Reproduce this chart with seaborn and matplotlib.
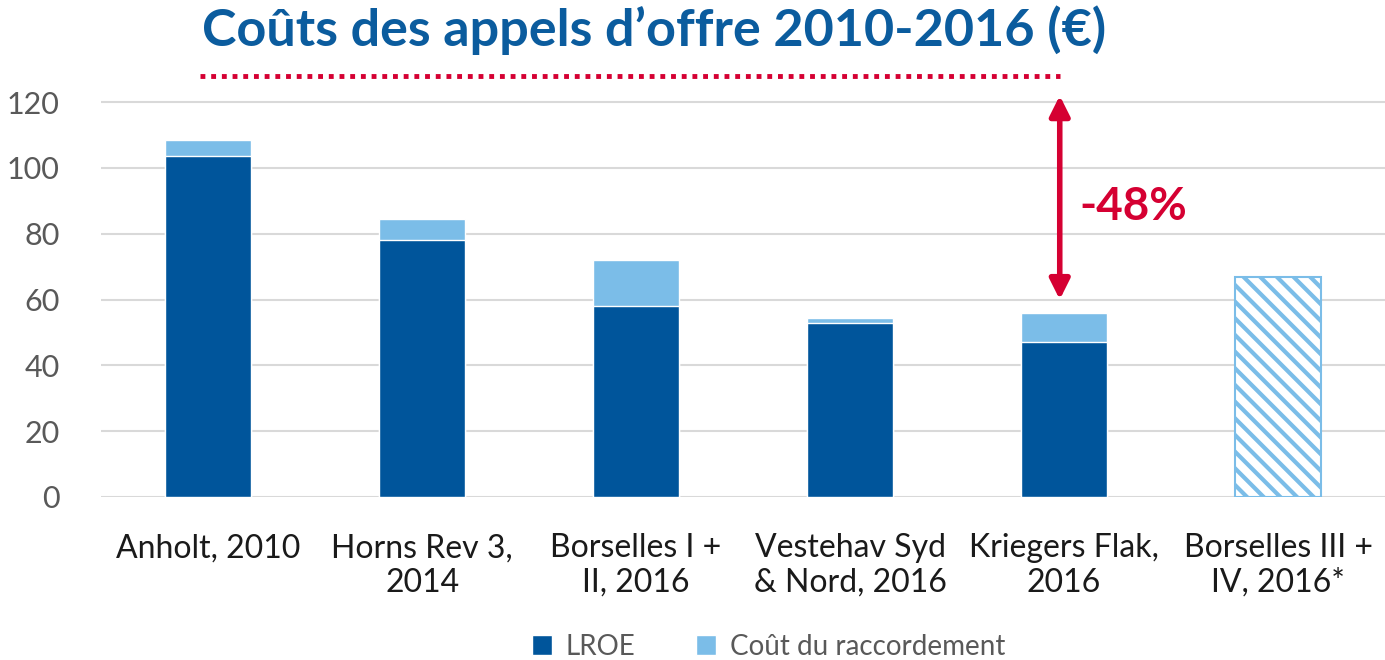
import numpy as np
import pandas as pd
import matplotlib
matplotlib.use("Agg")
import matplotlib.pyplot as plt
import seaborn as sns
from matplotlib.patches import Patch

# ----------------------------------------------
# data
projects = ["Anholt, 2010", "Horns Rev 3,\n2014", "Borselles I +\nII, 2016",
            "Vestehav Syd\n& Nord, 2016", "Kriegers Flak,\n2016", "Borselles III +\nIV, 2016*"]
lroe = [103.5, 78, 58, 53, 47, np.nan]
raccordement = [5, 6.5, 14, 1.5, 9, np.nan]
estimate_total = [np.nan, np.nan, np.nan, np.nan, np.nan, 67]
y_ticks = [0, 20, 40, 60, 80, 100, 120]
reference_level = 128
drop_from, drop_to = 122, 60
drop_label = "-48%"
title = "Coûts des appels d’offre 2010-2016 (€)"

DARK = "#00559B"
LIGHT = "#7BBDE8"
RED = "#D50032"
GREY = "#595959"

sns.set_theme(style="white")
plt.rcParams["font.family"] = ["Lato", "DejaVu Sans"]
plt.rcParams["hatch.linewidth"] = 3

df = pd.DataFrame({"Projet": projects, "LROE": lroe, "Raccordement": raccordement,
                   "Estimation": estimate_total})
df["Total"] = df["LROE"] + df["Raccordement"]
df["Total"] = df["Total"].fillna(df["Estimation"])

fig = plt.figure(figsize=(13.85, 6.6), dpi=100)
ax = fig.add_axes([0.073, 0.247, 0.927, 0.653])

# total bars (light) then LROE on top of them (dark)
sns.barplot(data=df, x="Projet", y="Total", color=LIGHT, saturation=1,
            width=0.4, ax=ax, zorder=2)
sns.barplot(data=df, x="Projet", y="LROE", color=DARK, saturation=1,
            width=0.4, ax=ax, zorder=3)

# last bar is an estimate: hatched
est_bar = ax.patches[len(projects) - 1]
est_bar.set_facecolor("white")
est_bar.set_edgecolor(LIGHT)
est_bar.set_hatch("\\\\")
est_bar.set_linewidth(1.5)

ax.set_ylim(0, 131)
ax.set_xlim(-0.5, len(projects) - 0.5)
ax.set_yticks(y_ticks)
ax.grid(axis="y", color="#d9d9d9", linewidth=1.5, zorder=0)
ax.set_axisbelow(True)
for s in ax.spines.values():
    s.set_visible(False)
ax.set_xlabel("")
ax.set_ylabel("")
ax.tick_params(axis="y", labelsize=22, labelcolor=GREY, length=0, pad=30)
ax.tick_params(axis="x", labelsize=23, labelcolor="#1a1a1a", length=0, pad=26)
for lbl in ax.get_xticklabels():
    lbl.set_verticalalignment("top")
    lbl.set_linespacing(1.2)

# reference level + drop arrow
k = 4
ax.plot([-0.04, k - 0.02], [reference_level, reference_level], color=RED,
        linestyle=(0, (1, 1.2)), linewidth=3.5, clip_on=False)
ax.annotate("", xy=(k - 0.02, drop_to), xytext=(k - 0.02, drop_from),
            arrowprops=dict(arrowstyle="<|-|>", color=RED, lw=4,
                            mutation_scale=30, shrinkA=0, shrinkB=0))
ax.text(k + 0.07, 88, drop_label, color=RED, fontsize=33, fontweight="bold",
        ha="left", va="center")

fig.text(0.472, 0.955, title, color="#0B5C9E", fontsize=37.5, fontweight="bold",
         ha="center", va="center")

handles = [Patch(facecolor=DARK, label="LROE"),
           Patch(facecolor=LIGHT, label="Coût du raccordement")]
leg = fig.legend(handles=handles, loc="center", bbox_to_anchor=(0.555, 0.02),
                 ncol=2, frameon=False, fontsize=20, handlelength=0.7,
                 handleheight=0.7, handletextpad=0.5, columnspacing=2.2)
for t in leg.get_texts():
    t.set_color(GREY)

fig.savefig("out.png", dpi=100)
